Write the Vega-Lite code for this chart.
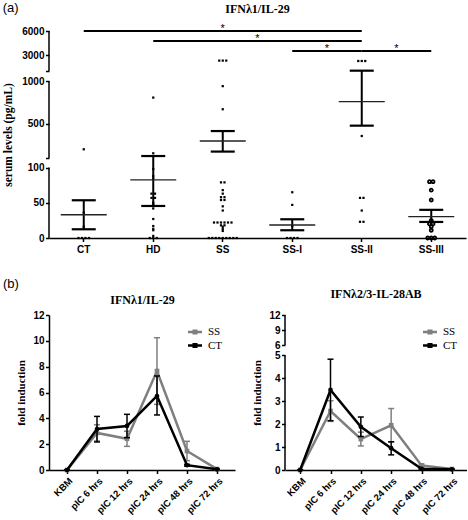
{
  "$schema": "https://vega.github.io/schema/vega-lite/v6.json",
  "padding": {"left": 2, "top": 2, "right": 0, "bottom": 0},
  "title": {"text": "(a)", "anchor": "start", "frame": "bounds", "offset": -12, "font": "Liberation Sans", "fontWeight": "normal", "fontSize": 13, "color": "black"},
  "config": {
    "view": {"stroke": null},
    "axis": {"grid": false, "labelFont": "Liberation Sans", "labelFontWeight": "bold", "labelColor": "black", "labelFontSize": 10, "domainColor": "black", "domainWidth": 1.5, "tickColor": "black", "tickWidth": 1.5, "tickSize": 3.5, "titleFont": "Liberation Serif", "titleFontWeight": "bold", "titleColor": "black", "titleFontSize": 11.5, "labelOverlap": false},
    "title": {"font": "Liberation Serif", "fontWeight": "bold", "fontSize": 12, "color": "black"}
  },
  "datasets": {
    "a_axis": [{"lo": 0, "hi": 100}, {"lo": 100.001, "hi": 1000}, {"lo": 1000.001, "hi": 6000}],
    "a_points": [
      {"group": "CT", "value": 202}, {"group": "CT", "value": 36}, {"group": "CT", "value": 16}, {"group": "CT", "value": 0}, {"group": "CT", "value": 0}, {"group": "CT", "value": 0}, {"group": "CT", "value": 0},
      {"group": "HD", "value": 806}, {"group": "HD", "value": 155}, {"group": "HD", "value": 98}, {"group": "HD", "value": 88}, {"group": "HD", "value": 84}, {"group": "HD", "value": 63}, {"group": "HD", "value": 63}, {"group": "HD", "value": 57}, {"group": "HD", "value": 57}, {"group": "HD", "value": 50}, {"group": "HD", "value": 47}, {"group": "HD", "value": 42}, {"group": "HD", "value": 27}, {"group": "HD", "value": 17}, {"group": "HD", "value": 13}, {"group": "HD", "value": 11}, {"group": "HD", "value": 3}, {"group": "HD", "value": 0}, {"group": "HD", "value": 0}, {"group": "HD", "value": 0},
      {"group": "SS", "value": 2300}, {"group": "SS", "value": 2300}, {"group": "SS", "value": 2300}, {"group": "SS", "value": 940}, {"group": "SS", "value": 670}, {"group": "SS", "value": 79}, {"group": "SS", "value": 79}, {"group": "SS", "value": 68}, {"group": "SS", "value": 63}, {"group": "SS", "value": 58}, {"group": "SS", "value": 58}, {"group": "SS", "value": 54}, {"group": "SS", "value": 54}, {"group": "SS", "value": 45}, {"group": "SS", "value": 39}, {"group": "SS", "value": 22}, {"group": "SS", "value": 22}, {"group": "SS", "value": 22}, {"group": "SS", "value": 22}, {"group": "SS", "value": 22}, {"group": "SS", "value": 22}, {"group": "SS", "value": 18}, {"group": "SS", "value": 18}, {"group": "SS", "value": 16}, {"group": "SS", "value": 13}, {"group": "SS", "value": 10}, {"group": "SS", "value": 0}, {"group": "SS", "value": 0}, {"group": "SS", "value": 0}, {"group": "SS", "value": 0}, {"group": "SS", "value": 0}, {"group": "SS", "value": 0}, {"group": "SS", "value": 0}, {"group": "SS", "value": 0}, {"group": "SS", "value": 0},
      {"group": "SS-I", "value": 65}, {"group": "SS-I", "value": 47}, {"group": "SS-I", "value": 17}, {"group": "SS-I", "value": 0}, {"group": "SS-I", "value": 0}, {"group": "SS-I", "value": 0}, {"group": "SS-I", "value": 0},
      {"group": "SS-II", "value": 2250}, {"group": "SS-II", "value": 2250}, {"group": "SS-II", "value": 2250}, {"group": "SS-II", "value": 357}, {"group": "SS-II", "value": 57}, {"group": "SS-II", "value": 57}, {"group": "SS-II", "value": 39}, {"group": "SS-II", "value": 23}, {"group": "SS-II", "value": 23},
      {"group": "SS-III", "value": 80}, {"group": "SS-III", "value": 80}, {"group": "SS-III", "value": 68}, {"group": "SS-III", "value": 54}, {"group": "SS-III", "value": 25}, {"group": "SS-III", "value": 20}, {"group": "SS-III", "value": 20}, {"group": "SS-III", "value": 16}, {"group": "SS-III", "value": 11}, {"group": "SS-III", "value": 0}, {"group": "SS-III", "value": 0}, {"group": "SS-III", "value": 0}
    ],
    "a_summary": [
      {"group": "CT", "mean": 33, "lo": 12.4, "hi": 53.6},
      {"group": "HD", "mean": 82.5, "lo": 45.5, "hi": 123},
      {"group": "SS", "mean": 299, "lo": 175, "hi": 415},
      {"group": "SS-I", "mean": 18.5, "lo": 11, "hi": 26.6},
      {"group": "SS-II", "mean": 759, "lo": 478, "hi": 1040},
      {"group": "SS-III", "mean": 30.4, "lo": 22.8, "hi": 40}
    ],
    "a_sig": [
      {"from": "CT", "to": "SS-II", "y": 6000, "star_at": "SS", "star_pos": "mid", "sig": "*"},
      {"from": "HD", "to": "SS-II", "y": 4750, "star_at": "SS-I", "star_pos": "edge", "sig": "*"},
      {"from": "SS-I", "to": "SS-II", "y": 3500, "star_at": "SS-II", "star_pos": "edge", "sig": "*"},
      {"from": "SS-II", "to": "SS-III", "y": 3500, "star_at": "SS-III", "star_pos": "edge", "sig": "*"}
    ],
    "b1": [
      {"time": "KBM", "group": "SS", "mean": 0, "lo": 0, "hi": 0},
      {"time": "pIC 6 hrs", "group": "SS", "mean": 2.87, "lo": 2.25, "hi": 3.5},
      {"time": "pIC 12 hrs", "group": "SS", "mean": 2.42, "lo": 1.83, "hi": 3.0},
      {"time": "pIC 24 hrs", "group": "SS", "mean": 7.66, "lo": 5.08, "hi": 10.24},
      {"time": "pIC 48 hrs", "group": "SS", "mean": 1.47, "lo": 0.72, "hi": 2.22},
      {"time": "pIC 72 hrs", "group": "SS", "mean": 0.07, "lo": 0.03, "hi": 0.11},
      {"time": "KBM", "group": "CT", "mean": 0, "lo": 0, "hi": 0},
      {"time": "pIC 6 hrs", "group": "CT", "mean": 3.17, "lo": 2.17, "hi": 4.15},
      {"time": "pIC 12 hrs", "group": "CT", "mean": 3.41, "lo": 2.5, "hi": 4.31},
      {"time": "pIC 24 hrs", "group": "CT", "mean": 5.73, "lo": 4.26, "hi": 7.28},
      {"time": "pIC 48 hrs", "group": "CT", "mean": 0.37, "lo": 0.3, "hi": 0.44},
      {"time": "pIC 72 hrs", "group": "CT", "mean": 0.05, "lo": 0.03, "hi": 0.07}
    ],
    "b2": [
      {"time": "KBM", "group": "SS", "mean": 0, "lo": 0, "hi": 0},
      {"time": "pIC 6 hrs", "group": "SS", "mean": 2.57, "lo": 2.12, "hi": 3.02},
      {"time": "pIC 12 hrs", "group": "SS", "mean": 1.35, "lo": 1.05, "hi": 1.65},
      {"time": "pIC 24 hrs", "group": "SS", "mean": 1.95, "lo": 1.22, "hi": 2.68},
      {"time": "pIC 48 hrs", "group": "SS", "mean": 0.2, "lo": 0.14, "hi": 0.26},
      {"time": "pIC 72 hrs", "group": "SS", "mean": 0.04, "lo": 0.02, "hi": 0.06},
      {"time": "KBM", "group": "CT", "mean": 0, "lo": 0, "hi": 0},
      {"time": "pIC 6 hrs", "group": "CT", "mean": 3.49, "lo": 2.15, "hi": 4.83},
      {"time": "pIC 12 hrs", "group": "CT", "mean": 1.88, "lo": 1.46, "hi": 2.31},
      {"time": "pIC 24 hrs", "group": "CT", "mean": 0.95, "lo": 0.66, "hi": 1.23},
      {"time": "pIC 48 hrs", "group": "CT", "mean": 0.05, "lo": 0.03, "hi": 0.07},
      {"time": "pIC 72 hrs", "group": "CT", "mean": 0.03, "lo": 0.02, "hi": 0.04}
    ],
    "b2_axis": [{"lo": 0, "hi": 5}, {"lo": 6, "hi": 12}]
  },
  "spacing": 77,
  "bounds": "flush",
  "vconcat": [
    {
      "width": 417,
      "height": 207,
      "title": {"text": "IFNλ1/IL-29", "frame": "group", "offset": 7},
      "layer": [
        {
          "data": {"name": "a_axis"},
          "mark": {"type": "rule", "strokeWidth": 1.5, "color": "black"},
          "encoding": {
            "x": {"value": 0},
            "y": {"field": "lo", "type": "quantitative", "scale": {"type": "linear", "domain": [0, 100, 100.001, 1000, 1000.001, 6000], "range": [207, 136.6, 127, 50, 40, 0], "nice": false, "zero": false}},
            "y2": {"field": "hi"}
          }
        },
        {
          "data": {"name": "a_points"},
          "transform": [
            {"window": [{"op": "row_number", "as": "k"}, {"op": "count", "as": "n"}], "groupby": ["group", "value"], "frame": [null, null]},
            {"calculate": "datum.k - (datum.n + 1) / 2", "as": "dodge"}
          ],
          "encoding": {
            "x": {"field": "group", "type": "nominal", "scale": {"type": "band", "domain": ["CT", "HD", "SS", "SS-I", "SS-II", "SS-III"], "paddingInner": 0, "paddingOuter": 0}, "axis": {"title": null, "labelAngle": 0, "labelPadding": 3}},
            "xOffset": {"field": "dodge", "type": "quantitative", "scale": {"domain": [-1, 1], "range": [31.25, 38.25], "nice": false, "zero": false}},
            "y": {"field": "value", "type": "quantitative", "scale": {"type": "linear", "domain": [0, 100, 100.001, 1000, 1000.001, 6000], "range": [207, 136.6, 127, 50, 40, 0], "nice": false, "zero": false}, "axis": {"title": "serum levels (pg/mL)", "values": [0, 50, 100, 100.001, 500, 1000, 1000.001, 3000, 6000], "tickCount": 50, "format": "d", "labelExpr": "datum.value == 100.001 || datum.value == 1000.001 ? '' : datum.label", "domain": false, "labelOverlap": false, "labelBound": false, "labelPadding": 1.5, "titlePadding": 8}}
          },
          "layer": [
            {"transform": [{"filter": "datum.group != 'SS-III'"}], "mark": {"type": "point", "shape": "square", "filled": true, "size": 5, "color": "black", "opacity": 1}},
            {"transform": [{"filter": "datum.group == 'SS-III'"}], "mark": {"type": "point", "shape": "circle", "filled": false, "size": 9, "strokeWidth": 1.8, "color": "black", "opacity": 1}}
          ]
        },
        {
          "data": {"name": "a_summary"},
          "encoding": {
            "x": {"field": "group", "type": "nominal", "scale": {"type": "band", "domain": ["CT", "HD", "SS", "SS-I", "SS-II", "SS-III"], "paddingInner": 0, "paddingOuter": 0}}
          },
          "layer": [
            {"mark": {"type": "rule", "strokeWidth": 2, "color": "black"}, "encoding": {"y": {"field": "lo", "type": "quantitative", "scale": {"type": "linear", "domain": [0, 100, 100.001, 1000, 1000.001, 6000], "range": [207, 136.6, 127, 50, 40, 0], "nice": false, "zero": false}}, "y2": {"field": "hi"}}},
            {"mark": {"type": "tick", "size": 46, "thickness": 1.4, "color": "#222222", "opacity": 1}, "encoding": {"y": {"field": "mean", "type": "quantitative", "scale": {"type": "linear", "domain": [0, 100, 100.001, 1000, 1000.001, 6000], "range": [207, 136.6, 127, 50, 40, 0], "nice": false, "zero": false}}}},
            {"transform": [{"fold": ["lo", "hi"], "as": ["bound", "v"]}], "mark": {"type": "tick", "size": 24, "thickness": 2.2, "color": "black", "opacity": 1}, "encoding": {"y": {"field": "v", "type": "quantitative", "scale": {"type": "linear", "domain": [0, 100, 100.001, 1000, 1000.001, 6000], "range": [207, 136.6, 127, 50, 40, 0], "nice": false, "zero": false}}}}
          ]
        },
        {
          "data": {"name": "a_sig"},
          "layer": [
            {"mark": {"type": "rule", "strokeWidth": 2, "color": "black"}, "encoding": {
              "x": {"field": "from", "type": "nominal", "scale": {"type": "band", "domain": ["CT", "HD", "SS", "SS-I", "SS-II", "SS-III"], "paddingInner": 0, "paddingOuter": 0}},
              "x2": {"field": "to"},
              "y": {"field": "y", "type": "quantitative", "scale": {"type": "linear", "domain": [0, 100, 100.001, 1000, 1000.001, 6000], "range": [207, 136.6, 127, 50, 40, 0], "nice": false, "zero": false}}}},
            {"transform": [{"filter": "datum.star_pos == 'mid'"}], "mark": {"type": "text", "fontSize": 11, "font": "Liberation Sans", "baseline": "alphabetic", "dy": 1, "fill": "black", "color": "black"}, "encoding": {
              "x": {"field": "star_at", "type": "nominal", "bandPosition": 0.5, "scale": {"type": "band", "domain": ["CT", "HD", "SS", "SS-I", "SS-II", "SS-III"], "paddingInner": 0, "paddingOuter": 0}},
              "y": {"field": "y", "type": "quantitative", "scale": {"type": "linear", "domain": [0, 100, 100.001, 1000, 1000.001, 6000], "range": [207, 136.6, 127, 50, 40, 0], "nice": false, "zero": false}},
              "text": {"field": "sig"}}},
            {"transform": [{"filter": "datum.star_pos == 'edge'"}], "mark": {"type": "text", "fontSize": 11, "font": "Liberation Sans", "baseline": "alphabetic", "dy": 1, "fill": "black", "color": "black"}, "encoding": {
              "x": {"field": "star_at", "type": "nominal", "bandPosition": 0, "scale": {"type": "band", "domain": ["CT", "HD", "SS", "SS-I", "SS-II", "SS-III"], "paddingInner": 0, "paddingOuter": 0}},
              "y": {"field": "y", "type": "quantitative", "scale": {"type": "linear", "domain": [0, 100, 100.001, 1000, 1000.001, 6000], "range": [207, 136.6, 127, 50, 40, 0], "nice": false, "zero": false}},
              "text": {"field": "sig"}}}
          ]
        }
      ]
    },
    {
      "hconcat": [
        {
          "width": 186,
          "height": 155,
          "data": {"name": "b1"},
          "title": {"text": "(b)", "anchor": "start", "frame": "bounds", "dx": -13, "offset": 2, "font": "Liberation Sans", "fontWeight": "normal", "fontSize": 13, "color": "black"},
          "resolve": {"axis": {"x": "independent"}},
          "layer": [
            {
              "mark": {"type": "point", "opacity": 0},
              "encoding": {
                "x": {"field": "time", "type": "ordinal", "sort": ["KBM", "pIC 6 hrs", "pIC 12 hrs", "pIC 24 hrs", "pIC 48 hrs", "pIC 72 hrs"], "scale": {"type": "point", "padding": 0.6}, "axis": {"orient": "top", "title": "IFNλ1/IL-29", "titleFontSize": 12, "domain": false, "ticks": false, "labels": false, "titlePadding": 9}},
                "y": {"field": "mean", "type": "quantitative", "scale": {"domain": [0, 12], "nice": false}}
              }
            },
            {
              "encoding": {
                "x": {"field": "time", "type": "ordinal", "sort": ["KBM", "pIC 6 hrs", "pIC 12 hrs", "pIC 24 hrs", "pIC 48 hrs", "pIC 72 hrs"], "scale": {"type": "point", "padding": 0.6}, "axis": {"title": null, "labelAngle": -45, "labelFontSize": 9.5, "labelPadding": 2}}
              },
              "layer": [
                {"transform": [{"filter": "datum.group == 'SS'"}], "layer": [
                  {"mark": {"type": "rule", "strokeWidth": 1.5}, "encoding": {"y": {"field": "lo", "type": "quantitative", "scale": {"domain": [0, 12], "nice": false}, "axis": {"title": "fold induction", "values": [0, 2, 4, 6, 8, 10, 12], "tickCount": 50, "format": "d", "labelOverlap": false, "titleFontSize": 11, "titlePadding": 6, "labelPadding": 1.5}}, "y2": {"field": "hi"}, "color": {"field": "group", "type": "nominal", "scale": {"domain": ["SS", "CT"], "range": ["#7f7f7f", "#000000"]}, "legend": {"orient": "none", "legendX": 139, "legendY": 10, "title": null, "symbolType": "M-1,-0.17H1V0.17H-1Z M-0.36,-0.36H0.36V0.36H-0.36Z", "symbolSize": 196, "symbolStrokeWidth": 0, "labelFont": "Liberation Serif", "labelFontSize": 11, "labelFontWeight": "normal", "labelColor": "black", "labelOffset": 6, "rowPadding": 1.5, "padding": 0}}}},
                  {"transform": [{"fold": ["lo", "hi"], "as": ["bound", "v"]}], "mark": {"type": "tick", "size": 6, "thickness": 1.5, "opacity": 1}, "encoding": {"y": {"field": "v", "type": "quantitative", "scale": {"domain": [0, 12], "nice": false}}, "color": {"field": "group", "type": "nominal", "scale": {"domain": ["SS", "CT"], "range": ["#7f7f7f", "#000000"]}}}},
                  {"mark": {"type": "line", "strokeWidth": 2.5}, "encoding": {"y": {"field": "mean", "type": "quantitative", "scale": {"domain": [0, 12], "nice": false}}, "color": {"field": "group", "type": "nominal", "scale": {"domain": ["SS", "CT"], "range": ["#7f7f7f", "#000000"]}}}},
                  {"mark": {"type": "point", "shape": "square", "filled": true, "size": 22, "opacity": 1}, "encoding": {"y": {"field": "mean", "type": "quantitative", "scale": {"domain": [0, 12], "nice": false}}, "color": {"field": "group", "type": "nominal", "scale": {"domain": ["SS", "CT"], "range": ["#7f7f7f", "#000000"]}}}}
                ]},
                {"transform": [{"filter": "datum.group == 'CT'"}], "layer": [
                  {"mark": {"type": "rule", "strokeWidth": 1.5}, "encoding": {"y": {"field": "lo", "type": "quantitative", "scale": {"domain": [0, 12], "nice": false}}, "y2": {"field": "hi"}, "color": {"field": "group", "type": "nominal", "scale": {"domain": ["SS", "CT"], "range": ["#7f7f7f", "#000000"]}}}},
                  {"transform": [{"fold": ["lo", "hi"], "as": ["bound", "v"]}], "mark": {"type": "tick", "size": 6, "thickness": 1.5, "opacity": 1}, "encoding": {"y": {"field": "v", "type": "quantitative", "scale": {"domain": [0, 12], "nice": false}}, "color": {"field": "group", "type": "nominal", "scale": {"domain": ["SS", "CT"], "range": ["#7f7f7f", "#000000"]}}}},
                  {"mark": {"type": "line", "strokeWidth": 2.5}, "encoding": {"y": {"field": "mean", "type": "quantitative", "scale": {"domain": [0, 12], "nice": false}}, "color": {"field": "group", "type": "nominal", "scale": {"domain": ["SS", "CT"], "range": ["#7f7f7f", "#000000"]}}}},
                  {"mark": {"type": "point", "shape": "circle", "filled": true, "size": 22, "opacity": 1}, "encoding": {"y": {"field": "mean", "type": "quantitative", "scale": {"domain": [0, 12], "nice": false}}, "color": {"field": "group", "type": "nominal", "scale": {"domain": ["SS", "CT"], "range": ["#7f7f7f", "#000000"]}}}}
                ]}
              ]
            }
          ]
        },
        {
          "width": 182,
          "height": 155,
          "title": {"text": "IFNλ2/3-IL-28AB", "frame": "group", "offset": 9},
          "layer": [
            {
              "data": {"name": "b2_axis"},
              "mark": {"type": "rule", "strokeWidth": 1.5, "color": "black"},
              "encoding": {
                "x": {"value": 0},
                "y": {"field": "lo", "type": "quantitative", "scale": {"type": "linear", "domain": [0, 5, 6, 12], "range": [155, 40.3, 30, 0], "nice": false, "zero": false}},
                "y2": {"field": "hi"}
              }
            },
            {
              "data": {"name": "b2"},
              "encoding": {
                "x": {"field": "time", "type": "ordinal", "sort": ["KBM", "pIC 6 hrs", "pIC 12 hrs", "pIC 24 hrs", "pIC 48 hrs", "pIC 72 hrs"], "scale": {"type": "point", "padding": 0.5}, "axis": {"title": null, "labelAngle": -45, "labelFontSize": 9.5, "labelPadding": 2}}
              },
              "layer": [
                {"transform": [{"filter": "datum.group == 'SS'"}], "layer": [
                  {"mark": {"type": "rule", "strokeWidth": 1.5}, "encoding": {"y": {"field": "lo", "type": "quantitative", "scale": {"type": "linear", "domain": [0, 5, 6, 12], "range": [155, 40.3, 30, 0], "nice": false, "zero": false}, "axis": {"title": "fold induction", "values": [0, 1, 2, 3, 4, 5, 6, 9, 12], "tickCount": 50, "format": "d", "domain": false, "labelOverlap": false, "labelBound": false, "titleFontSize": 11, "titlePadding": 6, "labelPadding": 1.5}}, "y2": {"field": "hi"}, "color": {"field": "group", "type": "nominal", "scale": {"domain": ["SS", "CT"], "range": ["#7f7f7f", "#000000"]}, "legend": {"orient": "none", "legendX": 138, "legendY": 10, "title": null, "symbolType": "M-1,-0.17H1V0.17H-1Z M-0.36,-0.36H0.36V0.36H-0.36Z", "symbolSize": 196, "symbolStrokeWidth": 0, "labelFont": "Liberation Serif", "labelFontSize": 11, "labelFontWeight": "normal", "labelColor": "black", "labelOffset": 6, "rowPadding": 1.5, "padding": 0}}}},
                  {"transform": [{"fold": ["lo", "hi"], "as": ["bound", "v"]}], "mark": {"type": "tick", "size": 6, "thickness": 1.5, "opacity": 1}, "encoding": {"y": {"field": "v", "type": "quantitative", "scale": {"type": "linear", "domain": [0, 5, 6, 12], "range": [155, 40.3, 30, 0], "nice": false, "zero": false}}, "color": {"field": "group", "type": "nominal", "scale": {"domain": ["SS", "CT"], "range": ["#7f7f7f", "#000000"]}}}},
                  {"mark": {"type": "line", "strokeWidth": 2.5}, "encoding": {"y": {"field": "mean", "type": "quantitative", "scale": {"type": "linear", "domain": [0, 5, 6, 12], "range": [155, 40.3, 30, 0], "nice": false, "zero": false}}, "color": {"field": "group", "type": "nominal", "scale": {"domain": ["SS", "CT"], "range": ["#7f7f7f", "#000000"]}}}},
                  {"mark": {"type": "point", "shape": "square", "filled": true, "size": 22, "opacity": 1}, "encoding": {"y": {"field": "mean", "type": "quantitative", "scale": {"type": "linear", "domain": [0, 5, 6, 12], "range": [155, 40.3, 30, 0], "nice": false, "zero": false}}, "color": {"field": "group", "type": "nominal", "scale": {"domain": ["SS", "CT"], "range": ["#7f7f7f", "#000000"]}}}}
                ]},
                {"transform": [{"filter": "datum.group == 'CT'"}], "layer": [
                  {"mark": {"type": "rule", "strokeWidth": 1.5}, "encoding": {"y": {"field": "lo", "type": "quantitative", "scale": {"type": "linear", "domain": [0, 5, 6, 12], "range": [155, 40.3, 30, 0], "nice": false, "zero": false}}, "y2": {"field": "hi"}, "color": {"field": "group", "type": "nominal", "scale": {"domain": ["SS", "CT"], "range": ["#7f7f7f", "#000000"]}}}},
                  {"transform": [{"fold": ["lo", "hi"], "as": ["bound", "v"]}], "mark": {"type": "tick", "size": 6, "thickness": 1.5, "opacity": 1}, "encoding": {"y": {"field": "v", "type": "quantitative", "scale": {"type": "linear", "domain": [0, 5, 6, 12], "range": [155, 40.3, 30, 0], "nice": false, "zero": false}}, "color": {"field": "group", "type": "nominal", "scale": {"domain": ["SS", "CT"], "range": ["#7f7f7f", "#000000"]}}}},
                  {"mark": {"type": "line", "strokeWidth": 2.5}, "encoding": {"y": {"field": "mean", "type": "quantitative", "scale": {"type": "linear", "domain": [0, 5, 6, 12], "range": [155, 40.3, 30, 0], "nice": false, "zero": false}}, "color": {"field": "group", "type": "nominal", "scale": {"domain": ["SS", "CT"], "range": ["#7f7f7f", "#000000"]}}}},
                  {"mark": {"type": "point", "shape": "circle", "filled": true, "size": 22, "opacity": 1}, "encoding": {"y": {"field": "mean", "type": "quantitative", "scale": {"type": "linear", "domain": [0, 5, 6, 12], "range": [155, 40.3, 30, 0], "nice": false, "zero": false}}, "color": {"field": "group", "type": "nominal", "scale": {"domain": ["SS", "CT"], "range": ["#7f7f7f", "#000000"]}}}}
                ]}
              ]
            }
          ]
        }
      ],
      "spacing": 50,
      "bounds": "flush",
      "resolve": {"scale": {"color": "independent"}, "legend": {"color": "independent"}}
    }
  ]
}
